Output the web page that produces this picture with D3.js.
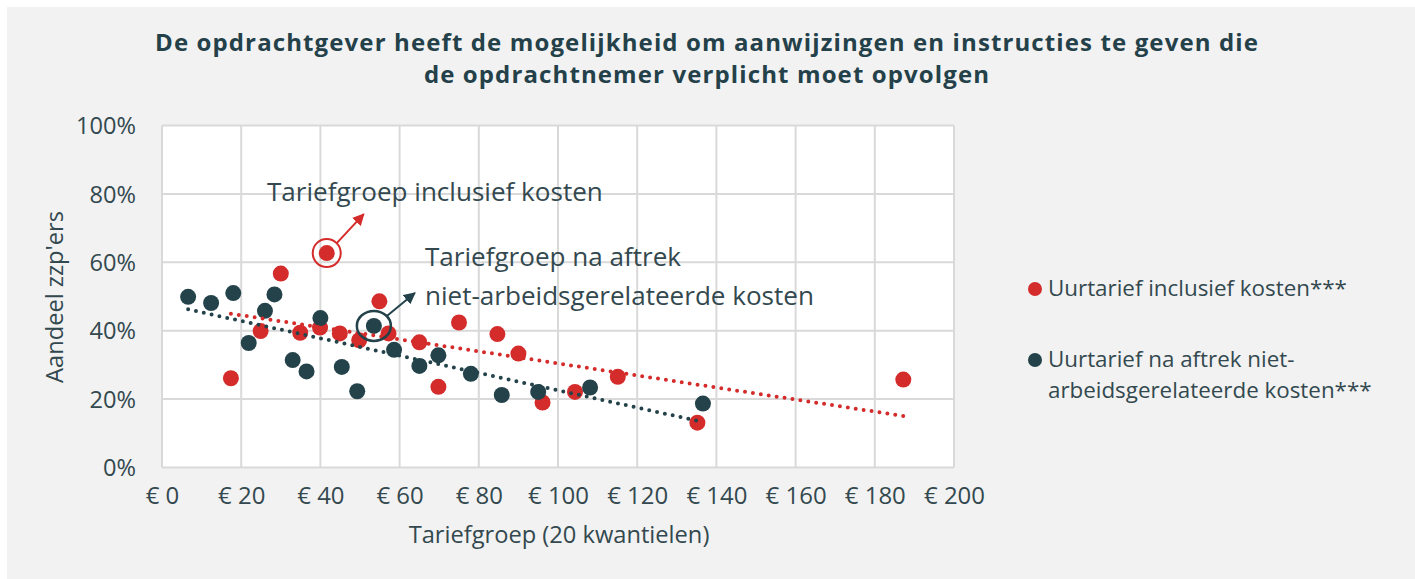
<!DOCTYPE html>
<html>
<head>
<meta charset="utf-8">
<script src="https://cdn.jsdelivr.net/npm/d3@7"></script>
<style>
  body { margin: 0; background: #fff; }
  svg { display: block; font-family: "Open Sans", Lato, sans-serif; }
</style>
</head>
<body>
<div id="chart"></div>
<script>
// tarief (euro) and aandeel (fraction) per quantile
var inclTarief = [17.4, 24.9, 30.0, 34.9, 39.9, 41.6, 44.9, 49.8, 54.9, 57.2, 65.0, 69.8, 75.0, 84.7, 90.0, 96.1, 104.3, 115.1, 135.2, 187.2];
var inclAandeel = [0.261, 0.399, 0.567, 0.394, 0.409, 0.627, 0.392, 0.372, 0.486, 0.392, 0.366, 0.236, 0.424, 0.390, 0.333, 0.190, 0.221, 0.265, 0.131, 0.257];
var nettoTarief = [6.6, 12.4, 18.0, 21.9, 26.0, 28.4, 33.0, 36.5, 40.0, 45.4, 49.3, 53.5, 58.6, 65.0, 69.8, 78.0, 85.8, 95.0, 108.1, 136.6];
var nettoAandeel = [0.499, 0.481, 0.510, 0.364, 0.458, 0.506, 0.314, 0.281, 0.437, 0.294, 0.223, 0.414, 0.344, 0.297, 0.328, 0.274, 0.212, 0.221, 0.234, 0.187];
var xTicks = [0, 20, 40, 60, 80, 100, 120, 140, 160, 180, 200];
var yTicks = [0, 0.2, 0.4, 0.6, 0.8, 1.0];
var highlightIncl = 5, highlightNetto = 11; // the ringed quantiles

var width = 1415, height = 579;
var RED = '#d42b2b', DARK = '#23424a', TXT = '#33494f', GRID = '#d9d9d9';

// scale a text's font size so it spans the wanted width (Avenir is wider than what we have)
fit = (sel, target) => {
  var w = sel.node().getComputedTextLength();
  var fs = parseFloat(sel.style('font-size'));
  var nfs = fs * target / w;
  sel.style('font-size', nfs + 'px');
  return nfs;
};

var svg = d3.select('#chart').append('svg')
  .attr('width', width)
  .attr('height', height);

svg.append('rect')
  .attr('x', 7).attr('y', 7)
  .attr('width', width - 7).attr('height', height - 7)
  .attr('fill', '#f2f2f2');

var x = d3.scaleLinear().domain([0, 200]).range([162, 954]);
var y = d3.scaleLinear().domain([0, 1]).range([467.5, 125.5]);

svg.append('rect')
  .attr('x', x(0)).attr('y', y(1))
  .attr('width', x(200) - x(0)).attr('height', y(0) - y(1))
  .attr('fill', '#fff');

// title: keep the glyphs a bit smaller and widen with letter spacing instead
var titleLines = ['De opdrachtgever heeft de mogelijkheid om aanwijzingen en instructies te geven die',
                  'de opdrachtnemer verplicht moet opvolgen'];
var t1 = svg.append('text')
  .attr('x', 707).attr('y', 51)
  .attr('text-anchor', 'middle')
  .attr('fill', '#24414a')
  .style('font-size', '24px')
  .style('font-weight', 'bold')
  .text(titleLines[0]);
var ls = (1104 - t1.node().getComputedTextLength()) / titleLines[0].length;
t1.style('letter-spacing', ls + 'px');
svg.append('text')
  .attr('x', 707).attr('y', 83)
  .attr('text-anchor', 'middle')
  .attr('fill', '#24414a')
  .style('font-size', '24px')
  .style('font-weight', 'bold')
  .style('letter-spacing', ls + 'px')
  .text(titleLines[1]);

// grid
var grid = svg.append('g');
grid.selectAll('.gx').data(xTicks).enter().append('line')
  .attr('x1', d => x(d)).attr('x2', d => x(d))
  .attr('y1', y(1)).attr('y2', y(0))
  .attr('stroke', GRID).attr('stroke-width', 2);
grid.selectAll('.gy').data(yTicks).enter().append('line')
  .attr('x1', x(0)).attr('x2', x(200))
  .attr('y1', d => y(d)).attr('y2', d => y(d))
  .attr('stroke', GRID).attr('stroke-width', 2);

// axes (labels only, Excel style)
var xAxis = svg.append('g')
  .attr('transform', 'translate(0,' + (y(0) + 16) + ')')
  .call(d3.axisBottom(x).tickValues(xTicks).tickSize(0).tickFormat(d => '€ ' + d));
var yAxis = svg.append('g')
  .attr('transform', 'translate(' + (x(0) - 23) + ',0)')
  .call(d3.axisLeft(y).tickValues(yTicks).tickSize(0).tickFormat(d3.format('.0%')));
[xAxis, yAxis].forEach(a => {
  a.select('.domain').remove();
  a.selectAll('text')
    .attr('fill', TXT)
    .style('font-family', '"Open Sans", Lato, sans-serif')
    .style('font-size', '18px');
});
var xfs = fit(xAxis.selectAll('text').filter(d => d === 200), 61);
xAxis.selectAll('text').style('font-size', xfs + 'px');
var yfs = fit(yAxis.selectAll('text').filter(d => d === 1), 60);
yAxis.selectAll('text').style('font-size', yfs + 'px').attr('dy', '0.35em');

fit(svg.append('text')
  .attr('x', 559).attr('y', 543)
  .attr('text-anchor', 'middle')
  .attr('fill', TXT)
  .style('font-size', '18px')
  .text('Tariefgroep (20 kwantielen)'), 301);

fit(svg.append('text')
  .attr('transform', 'translate(63,' + 297 + ') rotate(-90)')
  .attr('text-anchor', 'middle')
  .attr('fill', TXT)
  .style('font-size', '18px')
  .text("Aandeel zzp'ers"), 172);

// points
var incl = inclTarief.map((t, i) => ({ x: t, y: inclAandeel[i] }));
var netto = nettoTarief.map((t, i) => ({ x: t, y: nettoAandeel[i] }));

svg.append('g').selectAll('circle').data(incl).enter().append('circle')
  .attr('cx', d => x(d.x)).attr('cy', d => y(d.y)).attr('r', 8)
  .attr('fill', RED);
svg.append('g').selectAll('circle').data(netto).enter().append('circle')
  .attr('cx', d => x(d.x)).attr('cy', d => y(d.y)).attr('r', 8)
  .attr('fill', DARK);

// linear trendlines (least squares, like Excel)
trend = (pts) => {
  var mx = d3.mean(pts, d => d.x), my = d3.mean(pts, d => d.y);
  var b = d3.sum(pts, d => (d.x - mx) * (d.y - my)) / d3.sum(pts, d => (d.x - mx) * (d.x - mx));
  var a = my - b * mx;
  var ext = d3.extent(pts, d => d.x);
  return ext.map(v => ({ x: v, y: a + b * v }));
};
var line = d3.line().x(d => x(d.x)).y(d => y(d.y));
[[incl, RED], [netto, DARK]].forEach(s => {
  svg.append('path')
    .attr('d', line(trend(s[0])))
    .attr('fill', 'none')
    .attr('stroke', s[1])
    .attr('stroke-width', 4)
    .attr('stroke-linecap', 'round')
    .attr('stroke-dasharray', '0 8');
});

// annotations
var defs = svg.append('defs');
[['arrRed', RED], ['arrDark', DARK]].forEach(m => {
  defs.append('marker')
    .attr('id', m[0])
    .attr('viewBox', '0 0 10 10')
    .attr('refX', 9).attr('refY', 5)
    .attr('markerWidth', 6).attr('markerHeight', 6)
    .attr('markerUnits', 'strokeWidth')
    .attr('orient', 'auto')
    .append('path').attr('d', 'M0,0 L10,5 L0,10 Z').attr('fill', m[1]);
});

var hi = incl[highlightIncl], hn = netto[highlightNetto];
svg.append('circle')
  .attr('cx', x(hi.x)).attr('cy', y(hi.y)).attr('r', 14)
  .attr('fill', 'none').attr('stroke', RED).attr('stroke-width', 2);
svg.append('line')
  .attr('x1', x(hi.x) + 10).attr('y1', y(hi.y) - 10)
  .attr('x2', x(hi.x) + 37).attr('y2', y(hi.y) - 39)
  .attr('stroke', RED).attr('stroke-width', 2)
  .attr('marker-end', 'url(#arrRed)');

svg.append('ellipse')
  .attr('cx', x(hn.x)).attr('cy', y(hn.y)).attr('rx', 17).attr('ry', 15)
  .attr('fill', 'none').attr('stroke', DARK).attr('stroke-width', 2.5);
svg.append('line')
  .attr('x1', x(hn.x) + 13).attr('y1', y(hn.y) - 10)
  .attr('x2', x(hn.x) + 41).attr('y2', y(hn.y) - 33)
  .attr('stroke', DARK).attr('stroke-width', 2)
  .attr('marker-end', 'url(#arrDark)');

var afs = fit(svg.append('text')
  .attr('x', 267).attr('y', 201)
  .attr('fill', TXT).style('font-size', '22px')
  .text('Tariefgroep inclusief kosten'), 336);
svg.append('text').attr('x', 425).attr('y', 266)
  .attr('fill', TXT).style('font-size', afs + 'px')
  .text('Tariefgroep na aftrek');
svg.append('text').attr('x', 425).attr('y', 305)
  .attr('fill', TXT).style('font-size', afs + 'px')
  .text('niet-arbeidsgerelateerde kosten');

// legend
var legend = svg.append('g').attr('transform', 'translate(1035,0)');
legend.append('circle').attr('cx', 0).attr('cy', 289).attr('r', 7).attr('fill', RED);
var lfs = fit(legend.append('text').attr('x', 13).attr('y', 296)
  .attr('fill', TXT).style('font-size', '19px')
  .text('Uurtarief inclusief kosten***'), 299);
legend.append('circle').attr('cx', 0).attr('cy', 360).attr('r', 7).attr('fill', DARK);
legend.append('text').attr('x', 13).attr('y', 367)
  .attr('fill', TXT).style('font-size', lfs + 'px')
  .text('Uurtarief na aftrek niet-');
legend.append('text').attr('x', 13).attr('y', 398)
  .attr('fill', TXT).style('font-size', lfs + 'px')
  .text('arbeidsgerelateerde kosten***');
</script>
</body>
</html>
